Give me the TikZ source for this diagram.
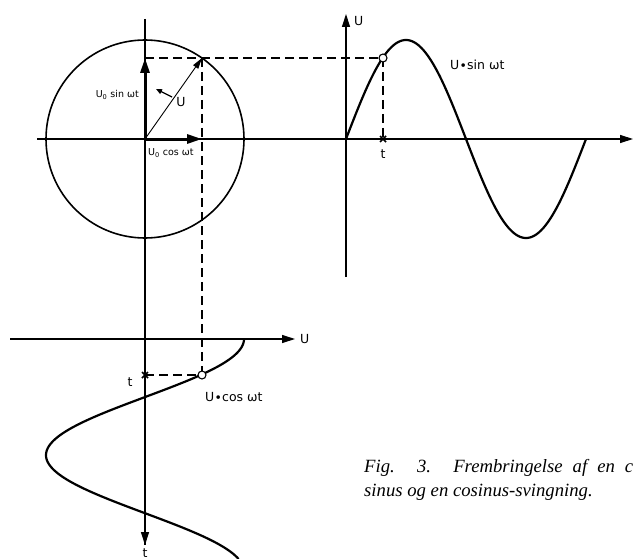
\documentclass[tikz,border=0pt]{standalone}
\usepackage{fontspec}
\setmainfont{Liberation Serif}
\setsansfont{DejaVu Sans}
\usetikzlibrary{arrows.meta}
\begin{document}
\begin{tikzpicture}[x=1pt,y=-1pt,
 axis/.style={line width=1.2pt},
 axarrow/.style={axis,-{Triangle[length=13pt,width=8pt]}},
 curve/.style={line width=2.2pt},
 phasor/.style={line width=3pt,-{Triangle[length=15pt,width=9pt]}},
 proj/.style={line width=1.3pt, dash pattern=on 9pt off 5pt},
 lbl/.style={font=\sffamily\fontsize{12.5}{12.5}\selectfont, inner sep=0pt},
 smalllbl/.style={font=\sffamily\fontsize{9.5}{9.5}\selectfont, inner sep=0pt},
 marker/.style={circle, draw, fill=white, line width=1.1pt, minimum size=8pt, inner sep=0pt},
 cross/.style={line width=1.6pt},
 captxt/.style={anchor=base west, inner sep=0pt, font=\itshape\fontsize{18.7}{24}\selectfont},
]
\useasboundingbox (0,0) rectangle (634,559);
\fill[white] (0,0) rectangle (634,559);

% key points
\coordinate (O) at (145,139);
\coordinate (P) at (202,58);
\coordinate (S) at (383,58);
\coordinate (C) at (202,375);
\coordinate (Ps) at (145,58);
\coordinate (Pc) at (202,139);
\coordinate (T1) at (383,139);
\coordinate (T2) at (145,375);

% axes
\coordinate (hL) at (37,139);   \coordinate (hR) at (633,139);
\coordinate (vT) at (145,19);   \coordinate (vB) at (145,545);
\coordinate (sB) at (346,277);  \coordinate (sT) at (346,14);
\coordinate (bL) at (10,339);   \coordinate (bR) at (295,339);
\draw[axarrow] (hL) -- (hR);
\draw[axis] (vT) -- (vB);
\draw[axarrow] (O) -- (vB);
\draw[axarrow] (sB) -- (sT);
\draw[axarrow] (bL) -- (bR);

% circle
\draw[line width=1.6pt] (O) circle[radius=99];

% curves
\draw[curve] plot[domain=0:240,samples=150] ({346+\x},{139-99*sin(1.5*\x)});
\draw[curve] plot[domain=0:220,samples=150] ({145+99*cos(1.55*\x)},{339+\x});

% projections
\draw[proj] (Ps) -- (S);
\draw[proj] (P) -- (C);
\draw[proj] (S) -- (T1);
\draw[proj] (T2) -- (C);

% phasors
\draw[phasor] (O) -- (Ps);
\draw[phasor] (O) -- (Pc);
\draw[line width=0.9pt,-{Triangle[length=11pt,width=6pt]}] (O) -- (P);
\coordinate (r1) at (172,97); \coordinate (r2) at (156,89);
\draw[line width=1.2pt,-{Triangle[length=6pt,width=5pt]}] (r1) -- (r2);

% crosses
\draw[cross] (T1) +(-3,-3) -- +(3,3) (T1) +(-3,3) -- +(3,-3);
\draw[cross] (T2) +(-3,-3) -- +(3,3) (T2) +(-3,3) -- +(3,-3);

% markers
\node[marker] (mS) at (S) {};
\node[marker] (mC) at (C) {};

% labels
\node[smalllbl, anchor=east] (lsin) at (139,95) {U\textsubscript{0} sin ωt};
\node[smalllbl, anchor=west] (lcos) at (148,153) {U\textsubscript{0} cos ωt};
\node[lbl] (lU) at (181,102) {U};
\node[lbl, anchor=west] (lUax) at (354,21) {U};
\node[lbl, anchor=west] (lsinwt) at (450,65) {U∙sin ωt};
\node[lbl] (lt1) at (383,154) {t};
\node[lbl, anchor=west] (lU2) at (300,339) {U};
\node[lbl] (lt2) at (130,382) {t};
\node[lbl, anchor=west] (lcoswt) at (205,397) {U∙cos ωt};
\node[lbl] (lt3) at (145,553) {t};

% caption
\node[captxt] (cap1) at (364,472) {\makebox[269pt][s]{Fig. 3. Frembringelse af en c}};
\node[captxt] (cap2) at (364,496) {sinus og en cosinus-svingning.};
\end{tikzpicture}
\end{document}
